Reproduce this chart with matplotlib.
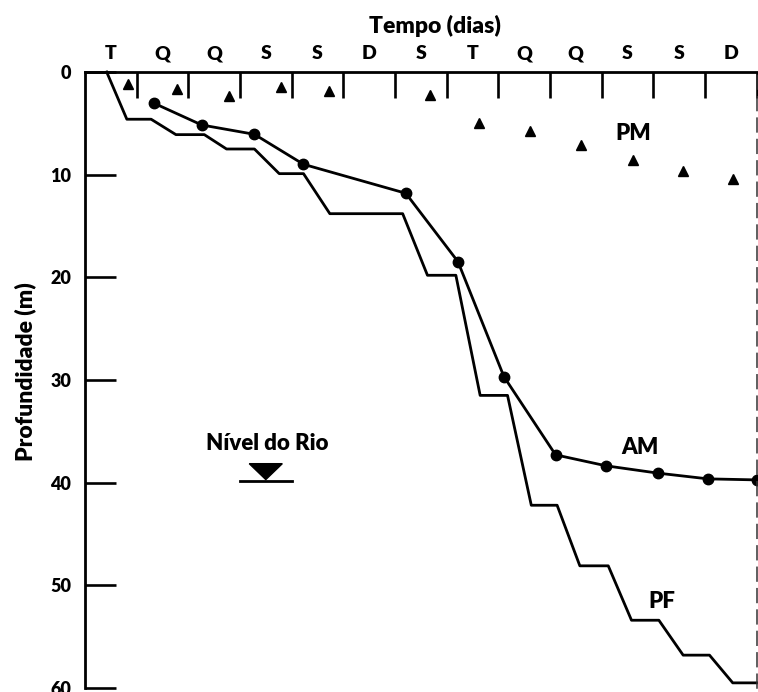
import numpy as np
import matplotlib.pyplot as plt
from matplotlib.ticker import FixedLocator, NullFormatter

plt.rcParams['font.family'] = ['Lato', 'DejaVu Sans']
plt.rcParams['font.weight'] = 'heavy'

# --- data (days from start, depth in m) ---
day_labels = ['T', 'Q', 'Q', 'S', 'S', 'D', 'S', 'T', 'Q', 'Q', 'S', 'S', 'D']

pf_day = [0.42, 0.81, 1.28, 1.76, 2.31, 2.74, 3.28, 3.76, 4.23, 4.74, 6.15, 6.63, 7.18,
          7.65, 8.18, 8.64, 9.14, 9.58, 10.13, 10.58, 11.11, 11.58, 12.09, 12.54, 13.0]
pf_depth = [0.0, 4.6, 4.6, 6.1, 6.1, 7.5, 7.5, 9.9, 9.9, 13.8, 13.8, 19.8, 19.8,
            31.5, 31.5, 42.2, 42.2, 48.1, 48.1, 53.4, 53.4, 56.8, 56.8, 59.5, 59.5]

am_day = [1.34, 2.26, 3.28, 4.23, 6.21, 7.22, 8.11, 9.11, 10.09, 11.09, 12.06, 13.0]
am_depth = [3.05, 5.16, 6.07, 8.99, 11.81, 18.47, 29.67, 37.29, 38.36, 39.07, 39.63, 39.73]

pm_day = [0.84, 1.79, 2.79, 3.79, 4.73, 6.68, 7.63, 8.62, 9.60, 10.60, 11.57, 12.55]
pm_depth = [1.20, 1.68, 2.31, 1.49, 1.82, 2.21, 4.97, 5.74, 7.14, 8.57, 9.67, 10.45]

river_day = 3.5
river_depth = 39.8

W = 'heavy'

fig = plt.figure(figsize=(7.58, 6.92), dpi=100)
ax = fig.add_axes([85 / 758, 4 / 692, 671.5 / 758, 616 / 692])

ax.plot(pf_day, pf_depth, color='black', lw=2.0, clip_on=False)
ax.plot(am_day, am_depth, color='black', lw=2.0, marker='o', ms=7.5, clip_on=False)
ax.plot(pm_day, pm_depth, ls='none', marker='^', color='black', ms=7, clip_on=False)

# river level symbol
ax.plot([river_day - 0.5, river_day + 0.5], [river_depth, river_depth], color='black', lw=2)
ax.fill([river_day - 0.32, river_day + 0.32, river_day],
        [river_depth - 1.65, river_depth - 1.65, river_depth - 0.1], color='black')
ax.text(river_day + 0.03, river_depth - 3.6, 'Nível do Rio', ha='center', va='center',
        fontsize=16, fontweight=W)

ax.text(10.61, 6.0, 'PM', ha='center', va='center', fontsize=16, fontweight=W)
ax.text(10.75, 36.6, 'AM', ha='center', va='center', fontsize=16, fontweight=W)
ax.text(11.17, 51.6, 'PF', ha='center', va='center', fontsize=16, fontweight=W)

ax.set_xlim(0, 13)
ax.set_ylim(60, 0)

# top axis: ticks at day boundaries, labels in the middle of each day
ax.xaxis.tick_top()
ax.xaxis.set_major_locator(FixedLocator(np.arange(1, 14)))
ax.xaxis.set_major_formatter(NullFormatter())
ax.xaxis.set_minor_locator(FixedLocator(np.arange(len(day_labels)) + 0.5))
ax.set_xticklabels(day_labels, minor=True)
ax.tick_params(axis='x', which='major', direction='in', length=18.5, width=1.9, top=True, bottom=False)
ax.tick_params(axis='x', which='minor', length=0, pad=7, labelsize=14, top=True, bottom=False)

ax.set_yticks(np.arange(0, 61, 10))
ax.tick_params(axis='y', direction='in', length=22.5, width=1.9, pad=10, labelsize=13)
for lab in ax.get_yticklabels() + ax.get_xticklabels(minor=True):
    lab.set_fontweight(W)

ax.xaxis.set_label_position('top')
ax.set_xlabel('Tempo (dias)', fontsize=16.5, fontweight=W)
ax.xaxis.set_label_coords(0.521, 1.063)
ax.set_ylabel('Profundidade (m)', fontsize=16.5, fontweight=W)
ax.yaxis.set_label_coords(-0.072, 0.513)

for s in ['left', 'top']:
    ax.spines[s].set_linewidth(2.0)
ax.spines['bottom'].set_visible(False)
ax.spines['right'].set_linewidth(1.1)
ax.spines['right'].set_color('#333333')
ax.spines['right'].set_linestyle((0, (9, 5)))

fig.savefig('out.png', dpi=100)
